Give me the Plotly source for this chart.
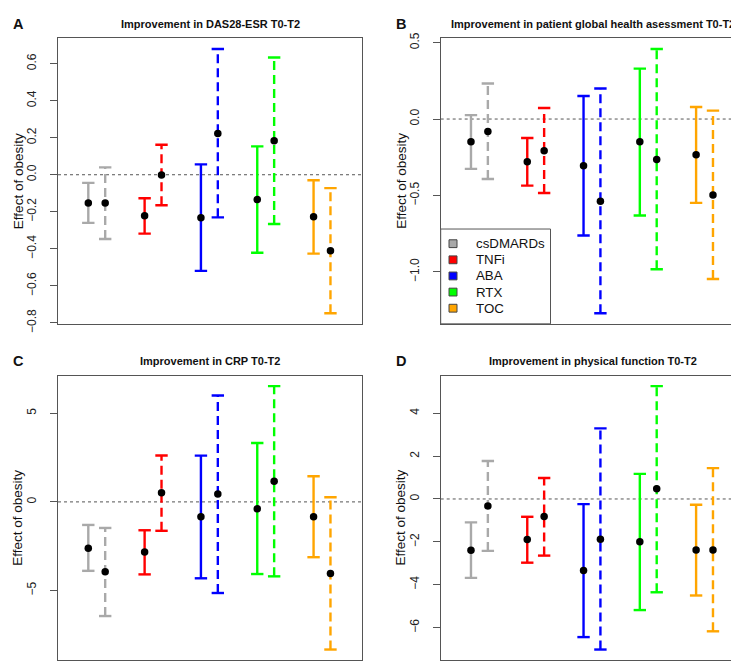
import plotly.graph_objects as go
from plotly.subplots import make_subplots

W, H = 739, 664

categories = ["csDMARDs", "TNFi", "ABA", "RTX", "TOC"]
colors = ["#A9A9A9", "#FF0000", "#0000FF", "#00FF00", "#FFA500"]
panel_letters = ["A", "B", "C", "D"]
panel_titles = [
    "Improvement in DAS28-ESR T0-T2",
    "Improvement in patient global health asessment T0-T2",
    "Improvement in CRP T0-T2",
    "Improvement in physical function T0-T2",
]
y_label = "Effect of obesity"

# Panel A: DAS28-ESR
a_est_solid = [-0.153, -0.222, -0.232, -0.134, -0.227]
a_lo_solid = [-0.260, -0.318, -0.519, -0.421, -0.426]
a_hi_solid = [-0.044, -0.127, 0.056, 0.153, -0.030]
a_est_dash = [-0.153, -0.002, 0.223, 0.183, -0.410]
a_lo_dash = [-0.347, -0.165, -0.230, -0.266, -0.748]
a_hi_dash = [0.040, 0.162, 0.679, 0.633, -0.072]

# Panel B: patient global health
b_est_solid = [-0.149, -0.279, -0.305, -0.149, -0.234]
b_lo_solid = [-0.326, -0.435, -0.761, -0.631, -0.548]
b_hi_solid = [0.026, -0.124, 0.151, 0.330, 0.079]
b_est_dash = [-0.081, -0.207, -0.537, -0.264, -0.496]
b_lo_dash = [-0.392, -0.484, -1.270, -0.982, -1.046]
b_hi_dash = [0.232, 0.072, 0.200, 0.458, 0.055]

# Panel C: CRP
c_est_solid = [-2.62, -2.83, -0.84, -0.39, -0.84]
c_lo_solid = [-3.89, -4.09, -4.31, -4.07, -3.12]
c_hi_solid = [-1.30, -1.60, 2.61, 3.32, 1.45]
c_est_dash = [-3.94, 0.51, 0.44, 1.17, -4.04]
c_lo_dash = [-6.44, -1.63, -5.14, -4.20, -8.33]
c_hi_dash = [-1.47, 2.62, 6.00, 6.53, 0.26]

# Panel D: physical function
d_est_solid = [-2.39, -1.89, -3.33, -2.00, -2.38]
d_lo_solid = [-3.68, -2.97, -6.44, -5.18, -4.50]
d_hi_solid = [-1.09, -0.83, -0.24, 1.17, -0.27]
d_est_dash = [-0.33, -0.82, -1.88, 0.48, -2.38]
d_lo_dash = [-2.42, -2.64, -7.02, -4.35, -6.17]
d_hi_dash = [1.77, 0.98, 3.29, 5.26, 1.44]

a_ticks = [-0.8, -0.6, -0.4, -0.2, 0.0, 0.2, 0.4, 0.6]
b_ticks = [-1.0, -0.5, 0.0, 0.5]
c_ticks = [-5, 0, 5]
d_ticks = [-6, -4, -2, 0, 2, 4]

panels = [
    (a_est_solid, a_lo_solid, a_hi_solid, a_est_dash, a_lo_dash, a_hi_dash, a_ticks, ".1f"),
    (b_est_solid, b_lo_solid, b_hi_solid, b_est_dash, b_lo_dash, b_hi_dash, b_ticks, ".1f"),
    (c_est_solid, c_lo_solid, c_hi_solid, c_est_dash, c_lo_dash, c_hi_dash, c_ticks, "d"),
    (d_est_solid, d_lo_solid, d_hi_solid, d_est_dash, d_lo_dash, d_hi_dash, d_ticks, "d"),
]

# layout in pixels (plot boxes)
box_x = [(50, 354), (432.7, 736.5)]
box_y = [(25, 317), (370, 661)]
FONT = "Liberation Sans, Arial, sans-serif"
BOX_COL = "#555555"

def px(xp):
    return xp / W

def py(yp):
    return 1 - yp / H

fig = make_subplots(rows=2, cols=2)

cap = 0.11
offset = 0.3
for k, (es, ls, hs, ed, ld, hd, ticks, fmt) in enumerate(panels):
    r, c = k // 2 + 1, k % 2 + 1
    for i in range(len(categories)):
        for est, lo, hi, off, dash in ((es, ls, hs, 0.0, "solid"), (ed, ld, hd, offset, "9px,5px")):
            xc = i + 1 + off
            fig.add_trace(go.Scatter(x=[xc, xc], y=[lo[i], hi[i]], mode="lines",
                                     line=dict(color=colors[i], width=2.4, dash=dash),
                                     showlegend=False, hoverinfo="skip"), row=r, col=c)
            fig.add_trace(go.Scatter(x=[xc - cap, xc + cap, None, xc - cap, xc + cap],
                                     y=[hi[i], hi[i], None, lo[i], lo[i]], mode="lines",
                                     line=dict(color=colors[i], width=2.4),
                                     showlegend=False, hoverinfo="skip"), row=r, col=c)
    xs = [i + 1 for i in range(len(categories))] + [i + 1 + offset for i in range(len(categories))]
    fig.add_trace(go.Scatter(x=xs, y=list(es) + list(ed), mode="markers",
                             marker=dict(color="black", size=7.5),
                             showlegend=False, hoverinfo="skip"), row=r, col=c)
    allv = list(ls) + list(hs) + list(ld) + list(hd)
    lo_v, hi_v = min(allv), max(allv)
    pad = 0.04 * (hi_v - lo_v)
    fig.update_yaxes(range=[lo_v - pad, hi_v + pad], tickvals=ticks, tickformat=fmt,
                     tickangle=-90, ticks="outside", ticklen=7, tickcolor=BOX_COL,
                     ticklabelstandoff=9,
                     showline=True, linecolor=BOX_COL, linewidth=1, mirror=True,
                     showgrid=False, zeroline=False,
                     tickfont=dict(family=FONT, size=12, color="#222222"),
                     domain=[py(box_y[r - 1][1]), py(box_y[r - 1][0])], row=r, col=c)
    fig.update_xaxes(range=[0.462, 5.86], showticklabels=False, ticks="",
                     showline=True, linecolor=BOX_COL, linewidth=1, mirror=True,
                     showgrid=False, zeroline=False,
                     domain=[px(box_x[c - 1][0]), px(box_x[c - 1][1])], row=r, col=c)
    fig.add_hline(y=0, line=dict(color="#555555", width=1, dash="3px,3px"), layer="below", row=r, col=c)

    x0, x1 = box_x[c - 1]
    y0, y1 = box_y[r - 1]
    fig.add_annotation(x=px((x0 + x1) / 2), y=py(y0 - 15), xref="paper", yref="paper",
                       text="<b>" + panel_titles[k] + "</b>", showarrow=False,
                       font=dict(family=FONT, size=11, color="#111111"),
                       xanchor="center", yanchor="middle")
    fig.add_annotation(x=px(x0 - 47), y=py(y0 - 15), xref="paper", yref="paper",
                       text="<b>" + panel_letters[k] + "</b>", showarrow=False,
                       font=dict(family=FONT, size=14.5, color="#111111"),
                       xanchor="left", yanchor="middle")
    fig.add_annotation(x=px(x0 - 40), y=py((y0 + y1) / 2), xref="paper", yref="paper",
                       text=y_label, textangle=-90, showarrow=False,
                       font=dict(family=FONT, size=13.5, color="#111111"),
                       xanchor="center", yanchor="middle")

# legend drawn in panel B
lx0, lx1, ly0, ly1 = 432.7, 542.5, 220, 317
fig.add_shape(type="rect", xref="paper", yref="paper",
              x0=px(lx0), x1=px(lx1), y0=py(ly1), y1=py(ly0),
              line=dict(color=BOX_COL, width=1), fillcolor="white", layer="above")
for i, name in enumerate(categories):
    yc = 235 + 16.5 * i
    fig.add_shape(type="rect", xref="paper", yref="paper",
                  x0=px(441), x1=px(449), y0=py(yc + 4), y1=py(yc - 4),
                  line=dict(color="#444444", width=1), fillcolor=colors[i], layer="above")
    fig.add_annotation(x=px(466), y=py(yc), xref="paper", yref="paper", text=name,
                       showarrow=False, xanchor="left", yanchor="middle",
                       font=dict(family=FONT, size=13.3, color="#111111"))

fig.update_layout(width=W, height=H, margin=dict(l=0, r=0, t=0, b=0),
                  paper_bgcolor="white", plot_bgcolor="white", showlegend=False)

fig.write_html("out.html")
